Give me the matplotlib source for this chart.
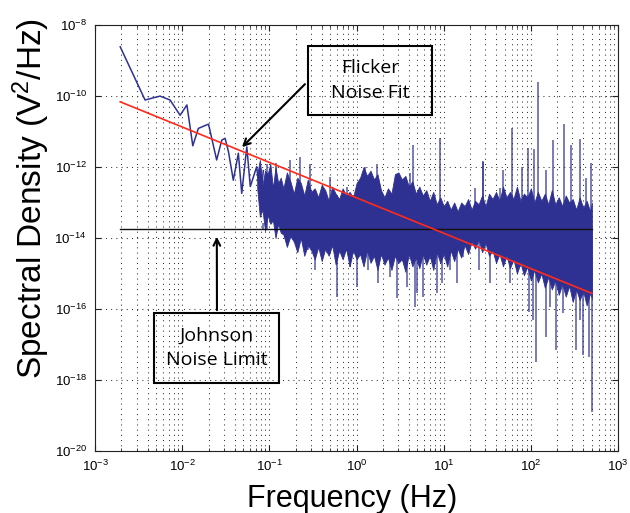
import matplotlib.pyplot as plt
import numpy as np
from matplotlib.patches import Rectangle
from matplotlib.ticker import LogLocator, NullLocator, FixedLocator

plt.rcParams['font.family'] = ['Liberation Sans', 'DejaVu Sans']
plt.rcParams['mathtext.fontset'] = 'custom'
plt.rcParams['mathtext.rm'] = 'Liberation Sans'
plt.rcParams['mathtext.default'] = 'regular'

# Low-frequency part of the measured spectrum (Hz, log10 V^2/Hz)
low_f = [0.00194, 0.00374, 0.00447, 0.00556, 0.00724, 0.00944, 0.0113, 0.0132,
         0.0153, 0.0200, 0.0248, 0.0284, 0.0310, 0.0339, 0.0385, 0.0440, 0.0481,
         0.0550, 0.0603, 0.0714, 0.0790, 0.0851]
low_s = [-8.61, -10.11, -10.06, -10.00, -10.11, -10.54, -10.25, -11.40,
         -10.91, -10.79, -11.80, -11.24, -11.19, -11.57, -12.37, -11.61, -12.74,
         -11.43, -12.55, -11.99, -12.90, -12.10]

# Dense noise band above ~0.07 Hz, read column by column (log10 Hz, log10 V^2/Hz)
band_logf = [-1.14, -1.11, -1.08, -1.05, -1.02, -0.99, -0.96, -0.93, -0.90, -0.87,
             -0.84, -0.80, -0.76, -0.72, -0.68, -0.64, -0.60, -0.56, -0.52, -0.48,
             -0.44, -0.40, -0.36, -0.32, -0.28, -0.24, -0.20, -0.16, -0.12, -0.08,
             -0.04, 0.00, 0.04, 0.08, 0.12, 0.16, 0.20, 0.24, 0.28, 0.32,
             0.36, 0.40, 0.44, 0.48, 0.52, 0.56, 0.60, 0.64, 0.68, 0.72,
             0.76, 0.80, 0.84, 0.88, 0.92, 0.96, 1.00, 1.04, 1.08, 1.12,
             1.16, 1.20, 1.24, 1.28, 1.32, 1.36, 1.40, 1.44, 1.48, 1.52,
             1.56, 1.60, 1.64, 1.68, 1.72, 1.76, 1.80, 1.84, 1.88, 1.92,
             1.96, 2.00, 2.04, 2.08, 2.12, 2.16, 2.20, 2.24, 2.28, 2.32,
             2.36, 2.40, 2.44, 2.48, 2.52, 2.56, 2.60, 2.64, 2.68, 2.70]
band_top = [-12.2, -11.8, -12.5, -12.1, -12.2, -11.9, -12.6, -12.0, -12.45, -12.3,
            -12.6, -12.15, -12.4, -12.75, -12.3, -12.45, -12.8, -12.35, -12.7, -12.6,
            -12.85, -12.5, -12.65, -12.95, -12.55, -12.75, -12.9, -12.6, -12.8, -12.7,
            -12.85, -12.45, -12.3, -12.0, -12.25, -12.1, -12.35, -12.2, -12.65, -12.85,
            -12.6, -12.75, -12.2, -12.15, -12.35, -12.25, -12.55, -12.4, -12.75, -12.55,
            -12.8, -12.65, -12.95, -12.7, -13.05, -12.85, -13.1, -12.95, -13.2, -13.0,
            -13.25, -13.0, -13.1, -12.9, -13.2, -12.95, -13.05, -12.8, -13.1, -12.75,
            -12.9, -12.7, -12.95, -12.55, -12.85, -12.7, -12.9, -12.55, -12.95, -12.75,
            -12.85, -12.6, -13.0, -12.7, -12.95, -12.75, -13.05, -12.65, -13.05, -12.85,
            -13.1, -12.8, -13.0, -12.9, -13.2, -12.85, -13.15, -12.95, -13.25, -13.0]
band_bot = [-12.6, -13.4, -13.2, -13.8, -13.35, -13.6, -13.5, -14.0, -13.6, -13.85,
            -13.9, -14.25, -13.95, -14.1, -14.4, -14.0, -14.5, -14.2, -14.35, -14.6,
            -14.25, -14.65, -14.3, -14.5, -14.2, -14.75, -14.35, -14.6, -14.3, -14.8,
            -14.35, -14.6, -14.45, -14.8, -14.35, -14.7, -14.5, -14.9, -14.45, -14.75,
            -14.55, -14.9, -14.5, -14.7, -14.6, -14.95, -14.45, -14.8, -14.55, -14.85,
            -14.45, -14.75, -14.5, -14.9, -14.4, -14.7, -14.45, -14.8, -14.35, -14.65,
            -14.3, -14.55, -14.2, -14.45, -14.1, -14.3, -14.05, -14.4, -14.15, -14.5,
            -14.35, -14.7, -14.45, -14.8, -14.5, -14.85, -14.6, -15.0, -14.7, -15.05,
            -14.8, -15.2, -14.9, -15.25, -15.0, -15.4, -15.1, -15.45, -15.2, -15.6,
            -15.3, -15.65, -15.35, -15.8, -15.45, -15.75, -15.5, -15.9, -15.55, -15.7]

# Narrow peaks above the band (log10 Hz, log10 V^2/Hz)
up_logf = [-1.03, -0.93, -0.764, -0.649, -0.534, -0.305, -0.114, 0.096, 0.23,
           0.46, 0.612, 0.65, 0.956, 1.36, 1.45, 1.453, 1.645, 1.675, 1.78, 1.90,
           1.965, 2.04, 2.083, 2.17, 2.25, 2.38, 2.46, 2.56, 2.63, 2.69]
up_logs = [-11.9, -11.89, -11.8, -11.71, -11.9, -12.27, -12.55, -11.99, -11.9,
           -12.23, -12.18, -11.38, -11.19, -12.6, -11.82, -11.85, -12.6, -12.08,
           -10.91, -11.99, -11.47, -11.5, -9.6, -12.08, -11.24, -10.8, -11.38,
           -11.22, -12.3, -11.89]

# Narrow dips below the band
dn_logf = [-1.07, -0.955, -0.821, -0.706, -0.554, -0.477, -0.343, -0.228, -0.076,
           0.0, 0.134, 0.249, 0.383, 0.46, 0.574, 0.67, 0.69, 0.765, 0.918, 0.975,
           1.071, 1.15, 1.224, 1.41, 1.53, 1.607, 1.76, 1.874, 1.98, 2.027,
           2.06, 2.17, 2.218, 2.29, 2.371, 2.52, 2.562, 2.6, 2.67, 2.70]
dn_logs = [-13.59, -13.77, -14.01, -13.96, -14.34, -14.9, -14.43, -15.65, -14.81,
           -15.37, -14.9, -15.28, -15.09, -15.7, -15.37, -15.93, -15.56, -15.65,
           -15.56, -15.28, -14.9, -15.28, -14.53, -14.9, -15.27, -14.53, -15.28,
           -14.81, -16.08, -16.3, -17.5, -16.78, -15.93, -17.15, -16.12, -17.15,
           -16.3, -17.3, -17.34, -18.9]

# 1/f flicker fit and Johnson noise floor
fit_f = [0.00194, 500]
fit_s = [6.9e-11, 2.76e-16]
johnson_f = [0.00194, 500]
johnson_s = [1.8e-14, 1.8e-14]

blue = '#2e3192'
floor = johnson_s[0]

fig = plt.figure(figsize=(6.3, 5.13), dpi=100)
ax = fig.add_axes([0.151, 0.121, 0.830, 0.830])

ax.plot(low_f, np.power(10.0, low_s), color=blue, lw=1.1, zorder=3)
bf = np.power(10.0, band_logf)
ax.fill_between(bf, np.power(10.0, band_bot), np.power(10.0, band_top),
                color=blue, lw=0.6, zorder=3)
ax.vlines(np.power(10.0, up_logf), floor, np.power(10.0, up_logs), color=blue,
          lw=1.2, alpha=0.75, zorder=3)
ax.vlines(np.power(10.0, dn_logf), np.power(10.0, dn_logs), floor, color=blue,
          lw=1.2, alpha=0.75, zorder=3)
ax.plot(fit_f, fit_s, color='#ff2a1a', lw=1.2, zorder=5)
ax.plot(johnson_f, johnson_s, color='#111111', lw=1.0, zorder=4)

ax.set_xscale('log')
ax.set_yscale('log')
ax.set_xlim(1e-3, 1e3)
ax.set_ylim(1e-20, 1e-8)

yexp = [-20, -18, -16, -14, -12, -10, -8]
ax.yaxis.set_major_locator(FixedLocator([10.0 ** e for e in yexp]))
ax.set_yticklabels(['$10^{%d}$' % e for e in yexp])
ax.yaxis.set_minor_locator(NullLocator())
xexp = [-3, -2, -1, 0, 1, 2, 3]
ax.xaxis.set_major_locator(FixedLocator([10.0 ** e for e in xexp]))
ax.set_xticklabels(['$10^{%d}$' % e for e in xexp])
ax.xaxis.set_minor_locator(LogLocator(base=10, subs=np.arange(2, 10), numticks=20))

ax.tick_params(which='both', direction='in', top=True, right=True,
               labelsize=9.5, color='#222222')
ax.tick_params(which='major', length=4.5, pad=6)
ax.tick_params(which='minor', length=2.5)
ax.grid(True, which='major', axis='both', color='#333333', lw=0.75,
        linestyle=(0, (1, 4)))
ax.grid(True, which='minor', axis='x', color='#333333', lw=0.75,
        linestyle=(0, (1, 4)))
for sp in ax.spines.values():
    sp.set_color('#222222')

ax.set_xlabel('Frequency (Hz)', fontsize=22)
ax.set_ylabel('Spectral Density (V$^2$/Hz)', fontsize=24)
ax.xaxis.set_label_coords(0.491, -0.078)
ax.yaxis.set_label_coords(-0.082, 0.594)

# annotation boxes
ax.add_patch(Rectangle((0.407, 0.789), 0.237, 0.162, transform=ax.transAxes,
                       fill=False, ec='black', lw=1.5, zorder=6))
ax.text(0.526, 0.870, 'Flicker\nNoise Fit', transform=ax.transAxes,
        ha='center', va='center', fontsize=14, family='Open Sans',
        linespacing=1.45, zorder=6)
ax.annotate('', xy=(0.046, 3.2e-12), xytext=(0.405, 0.866),
            textcoords='axes fraction',
            arrowprops=dict(arrowstyle='->', color='black', lw=1.5,
                            mutation_scale=12), zorder=6)

ax.add_patch(Rectangle((0.113, 0.160), 0.239, 0.164, transform=ax.transAxes,
                       fill=False, ec='black', lw=1.5, zorder=6))
ax.text(0.232, 0.242, 'Johnson\nNoise Limit', transform=ax.transAxes,
        ha='center', va='center', fontsize=14, family='Open Sans',
        linespacing=1.45, zorder=6)
ax.annotate('', xy=(0.0249, 1.3e-14), xytext=(0.233, 0.324),
            textcoords='axes fraction',
            arrowprops=dict(arrowstyle='->', color='black', lw=1.5,
                            mutation_scale=12), zorder=6)

fig.savefig('out.png', dpi=100)
